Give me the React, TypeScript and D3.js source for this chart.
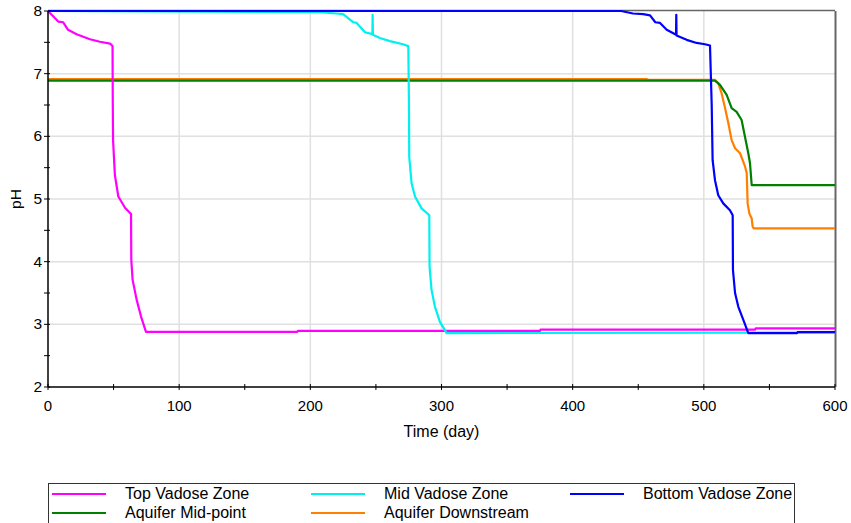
import React from 'react';
import * as d3 from 'd3';

// pH over time at five monitoring points

const topDays = [0, 8, 11.6, 15.3, 21.8, 32, 39.6, 47.3, 49.2, 49.4, 49.6, 51, 53.6, 58.7, 63.3, 63.5, 64.5, 67.6, 71, 74.7, 190, 190.5, 375, 375.5, 539, 539.5, 600];
const topPH = [8, 7.83, 7.82, 7.7, 7.63, 7.55, 7.51, 7.48, 7.44, 6.5, 5.94, 5.38, 5.04, 4.86, 4.76, 4.03, 3.71, 3.39, 3.12, 2.88, 2.88, 2.895, 2.895, 2.915, 2.915, 2.935, 2.935];

const midDays = [0, 207.4, 220, 225, 232.8, 235.3, 241.7, 247.3, 247.5, 247.7, 253, 260.7, 270.6, 274.7, 275.2, 275.4, 277.2, 279.8, 284.8, 290.7, 290.9, 292.4, 295, 298.8, 303.9, 600];
const midPH = [8, 7.98, 7.96, 7.95, 7.82, 7.81, 7.66, 7.63, 7.94, 7.62, 7.57, 7.52, 7.47, 7.44, 6.5, 5.67, 5.25, 5.04, 4.85, 4.74, 3.92, 3.55, 3.28, 3.04, 2.86, 2.87];

const botDays = [0, 437, 446, 453.8, 459, 463, 466.6, 471.7, 478.8, 479, 479.2, 486.9, 494.5, 500.9, 504.7, 506, 506.7, 508.5, 511, 514.8, 519.9, 522, 522.2, 523.8, 526.3, 530.1, 533.9, 571, 571.5, 600];
const botPH = [8, 8, 7.96, 7.95, 7.93, 7.82, 7.81, 7.7, 7.62, 7.94, 7.61, 7.54, 7.49, 7.47, 7.45, 6.5, 5.62, 5.3, 5.06, 4.93, 4.82, 4.74, 3.87, 3.5, 3.28, 3.07, 2.86, 2.86, 2.875, 2.875];

const aqMidDays = [0, 508.5, 512.3, 517.4, 521.2, 525, 528.8, 531.4, 533.9, 535.2, 536.5, 600];
const aqMidPH = [6.89, 6.89, 6.82, 6.66, 6.45, 6.39, 6.26, 5.99, 5.73, 5.57, 5.22, 5.22];

const aqDownDays = [0, 1, 456.5, 457, 508.5, 511, 513.5, 516, 518.7, 521.2, 523.8, 527.6, 531.4, 532.7, 533.4, 534.7, 536.5, 537.2, 538, 600];
const aqDownPH = [6.9, 6.915, 6.915, 6.9, 6.9, 6.85, 6.69, 6.47, 6.21, 5.94, 5.81, 5.73, 5.52, 5.41, 4.93, 4.77, 4.69, 4.56, 4.53, 4.53];

const seriesNames = ['Top Vadose Zone', 'Mid Vadose Zone', 'Bottom Vadose Zone', 'Aquifer Mid-point', 'Aquifer Downstream'];
const seriesColors = ['#ff00ff', '#00f0f0', '#0000ff', '#008000', '#ff8000'];

const xTicks = [0, 100, 200, 300, 400, 500, 600];
const yTicks = [2, 3, 4, 5, 6, 7, 8];

export default function App() {
    const width = 851, height = 523;
    const x = d3.scaleLinear().domain([0, 600]).range([48, 835]);
    const y = d3.scaleLinear().domain([2, 8]).range([387, 11]);

    const seriesDays = [topDays, midDays, botDays, aqMidDays, aqDownDays];
    const seriesPH = [topPH, midPH, botPH, aqMidPH, aqDownPH];

    const line = d3.line<[number, number]>().x(d => x(d[0])).y(d => y(d[1]));

    // draw order: aquifer lines below vadose lines
    const order = [4, 3, 0, 1, 2];

    const minorX = d3.range(50, 600, 100);
    const minorY = d3.range(2.5, 8, 1);
    const font = '"Liberation Sans", Arial, sans-serif';

    return (
        <svg width={width} height={height} style={{position: 'absolute', left: 0, top: 0}} fontFamily={font}>
            <rect x={0} y={0} width={width} height={height} fill="white"/>
            {/* grid */}
            {xTicks.slice(1, -1).map(t =>
                <line key={'gx' + t} x1={x(t)} x2={x(t)} y1={y(8)} y2={y(2)} stroke="#e0e0e0" strokeWidth={1.5}/>
            )}
            {yTicks.slice(1, -1).map(t =>
                <line key={'gy' + t} x1={x(0)} x2={x(600)} y1={y(t)} y2={y(t)} stroke="#e0e0e0" strokeWidth={1.5}/>
            )}
            {/* frame */}
            <line x1={x(0)} x2={x(600)} y1={y(8) - 0.5} y2={y(8) - 0.5} stroke="#666" strokeWidth={1.5}/>
            <line x1={x(600) + 0.5} x2={x(600) + 0.5} y1={y(8)} y2={y(2)} stroke="#666" strokeWidth={2}/>

            {/* series */}
            {order.map(i => {
                const pts = seriesDays[i].map((d, j) => [d, seriesPH[i][j]] as [number, number]);
                return <path key={seriesNames[i]} d={line(pts) || ''} fill="none" stroke={seriesColors[i]}
                             strokeWidth={2.2} strokeLinejoin="round"/>;
            })}

            {/* axes */}
            <line x1={x(0)} x2={x(0)} y1={y(8)} y2={y(2)} stroke="black" strokeWidth={1.5}/>
            <line x1={x(0)} x2={x(600)} y1={y(2)} y2={y(2)} stroke="black" strokeWidth={1.5}/>
            {xTicks.map(t =>
                <g key={'xt' + t}>
                    <line x1={x(t)} x2={x(t)} y1={y(2) - 3} y2={y(2) + 3} stroke="black"/>
                    <text x={x(t)} y={y(2) + 24} textAnchor="middle" fontSize={15}>{t}</text>
                </g>
            )}
            {minorX.map(t =>
                <line key={'mx' + t} x1={x(t)} x2={x(t)} y1={y(2) - 3} y2={y(2) + 3} stroke="black"/>
            )}
            {yTicks.map(t =>
                <g key={'yt' + t}>
                    <line x1={x(0) - 4} x2={x(0) + 2} y1={y(t)} y2={y(t)} stroke="black"/>
                    <text x={x(0) - 6} y={y(t) + 5} textAnchor="end" fontSize={15.5}>{t}</text>
                </g>
            )}
            {minorY.map(t =>
                <line key={'my' + t} x1={x(0) - 4} x2={x(0) + 2} y1={y(t)} y2={y(t)} stroke="black"/>
            )}
            <text x={x(300)} y={437} textAnchor="middle" fontSize={16}>Time (day)</text>
            <text transform={`translate(21, ${y(5)}) rotate(-90)`} textAnchor="middle" fontSize={15.5}>pH</text>

            {/* legend */}
            <rect x={48.5} y={483.5} width={746} height={50} fill="white" stroke="#333" strokeWidth={1}/>
            {seriesNames.map((name, i) => {
                const col = i % 3, row = Math.floor(i / 3);
                const lx = 52 + col * 259, ly = 494 + row * 19;
                return (
                    <g key={'lg' + name}>
                        <line x1={lx} x2={lx + 54} y1={ly} y2={ly} stroke={seriesColors[i]} strokeWidth={2}/>
                        <text x={lx + 73} y={ly + 5} fontSize={16}>{name}</text>
                    </g>
                );
            })}
        </svg>
    );
}
